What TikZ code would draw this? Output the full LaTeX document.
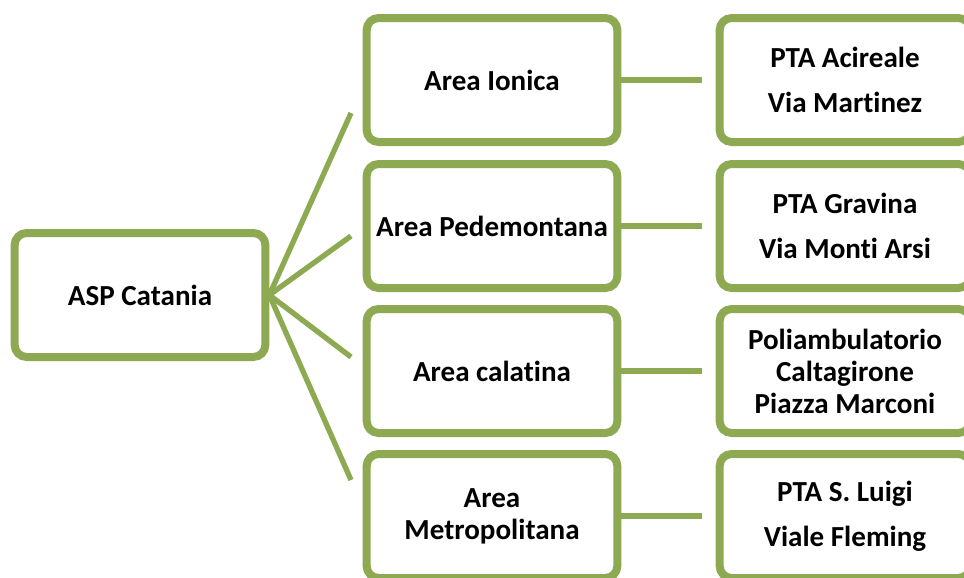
\documentclass[tikz,border=0pt]{standalone}
\usepackage{fontspec}
\setmainfont{Carlito}[Ligatures={NoCommon}]
\usetikzlibrary{shadows}
\definecolor{olivegreen}{RGB}{141,170,82}

\begin{document}
\begin{tikzpicture}[x=0.75pt,y=-0.75pt,
  box/.style={draw=olivegreen, line width=6pt, rounded corners=9pt, fill=white,
    minimum width=188pt, minimum height=93pt, inner sep=2pt, align=center,
    font=\fontsize{21.8}{24}\selectfont\bfseries,
    drop shadow={opacity=0.25, shadow xshift=1.5pt, shadow yshift=-2pt}},
  link/.style={olivegreen, line width=4pt}]
\useasboundingbox (0,0) rectangle (964,578);
% Nodes
\node[box] (asp) at (140,295) {ASP Catania};
\node[box] (ionica) at (492,80) {Area Ionica};
\node[box] (pedemontana) at (492,226) {Area Pedemontana};
\node[box] (calatina) at (492,371) {Area calatina};
\node[box] (metropolitana) at (492,516) {Area\\Metropolitana};
\node[box] (acireale) at (845,80) {PTA Acireale\\[10pt]Via Martinez};
\node[box] (gravina) at (845,226) {PTA Gravina\\[10pt]Via Monti Arsi};
\node[box] (caltagirone) at (845,371) {Poliambulatorio\\Caltagirone\\Piazza Marconi};
\node[box] (luigi) at (845,516) {PTA S. Luigi\\[10pt]Viale Fleming};
% Line ends
\coordinate (f1) at (351,113);
\coordinate (f2) at (351,236);
\coordinate (f3) at (351,357);
\coordinate (f4) at (351,480);
\coordinate (h1) at ([xshift=-10pt]acireale.west);
\coordinate (h2) at ([xshift=-10pt]gravina.west);
\coordinate (h3) at ([xshift=-10pt]caltagirone.west);
\coordinate (h4) at ([xshift=-10pt]luigi.west);
% Lines
\draw[link] (asp.east) -- (f1);
\draw[link] (asp.east) -- (f2);
\draw[link] (asp.east) -- (f3);
\draw[link] (asp.east) -- (f4);
\draw[link] (ionica.east) -- (h1);
\draw[link] (pedemontana.east) -- (h2);
\draw[link] (calatina.east) -- (h3);
\draw[link] (metropolitana.east) -- (h4);
\end{tikzpicture}
\end{document}
